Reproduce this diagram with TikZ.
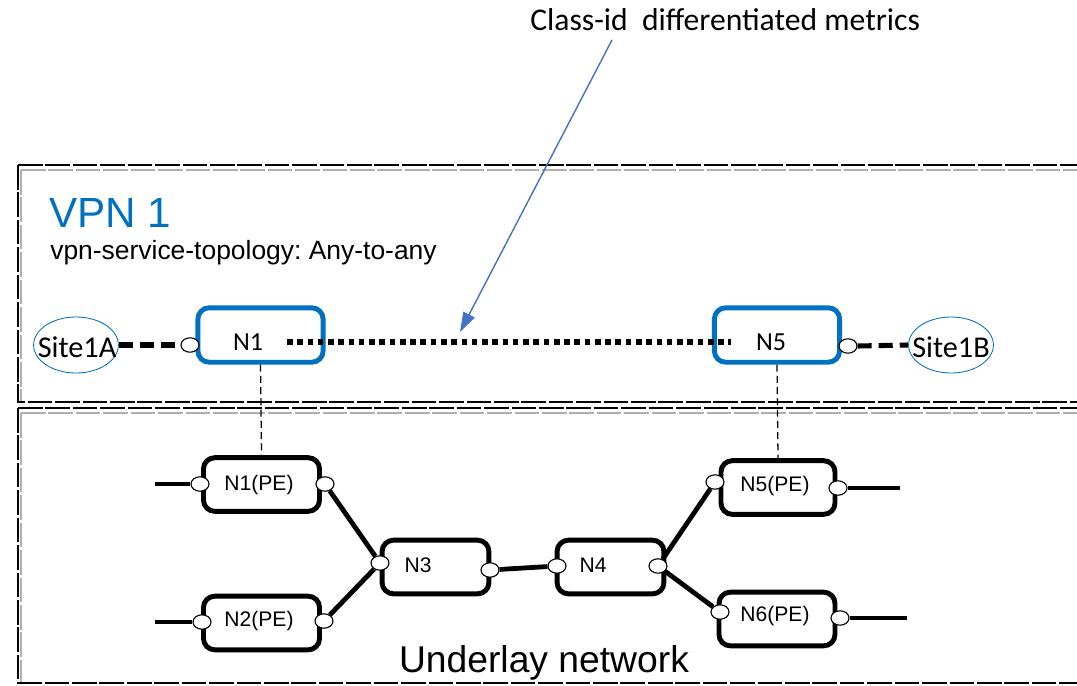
\documentclass[tikz,border=0pt]{standalone}
\usepackage{fontspec}
\setmainfont{Liberation Sans}
\newfontfamily\calibfont{Carlito}
\frenchspacing
\usetikzlibrary{positioning,shapes.geometric,arrows.meta}
\definecolor{vpnblue}{RGB}{0,112,192}
\definecolor{arrowblue}{RGB}{68,114,196}
\definecolor{framegray}{RGB}{175,175,175}
\tikzset{
	frameline/.style={line width=1.6pt,dash pattern=on 17.5pt off 2pt},
	framegrey/.style={frameline,draw=framegray},
	vpnbox/.style={draw=vpnblue,line width=3.5pt,rounded corners=8pt,minimum width=3.13cm,minimum height=1.36cm,inner sep=0pt},
	pebox/.style={draw=black,line width=3.5pt,rounded corners=8pt,minimum height=1.34cm,inner sep=0pt},
	port/.style={ellipse,draw=black,fill=white,line width=0.8pt,minimum width=0.45cm,minimum height=0.36cm,inner sep=0pt},
	siteell/.style={ellipse,draw=vpnblue,line width=0.6pt,minimum width=2.12cm,minimum height=1.4cm,inner sep=0pt},
	sitetext/.style={font=\calibfont\fontsize{21.5}{24}\selectfont,inner sep=0pt},
	nlabel/.style={font=\fontsize{15}{18}\selectfont,inner sep=0pt},
	vlabel/.style={font=\calibfont\fontsize{18.5}{22}\selectfont,inner sep=0pt},
	link/.style={line width=3.4pt},
	sitelink/.style={line width=3.6pt,dash pattern=on 10pt off 5pt},
	overlay/.style={line width=4pt,dash pattern=on 4pt off 3.3pt},
	drop/.style={line width=0.9pt,dash pattern=on 5pt off 3pt}
}

\begin{document}
\begin{tikzpicture}[x=0.025cm,y=-0.025cm]
	\useasboundingbox (0,0) rectangle (1077,685);

	% frames
	\draw[framegrey] (21,170) -- (1090,170);
	\draw[framegrey] (21,170) -- (21,402);
	\draw[frameline] (18,165) -- (1090,165);
	\draw[frameline] (18,165) -- (18,402) -- (1090,402);
	\draw[framegrey] (21,413) -- (1090,413);
	\draw[framegrey] (21,413) -- (21,683);
	\draw[frameline] (18,408) -- (1090,408);
	\draw[frameline] (18,408) -- (18,683) -- (1090,683);

	% texts
	\node[anchor=base west,inner sep=0pt,text=vpnblue,font=\fontsize{30}{34}\selectfont] (vpntitle) at (49,227) {VPN 1};
	\node[anchor=base west,inner sep=0pt,font=\fontsize{18.8}{22}\selectfont] (topo) at (50,259) {vpn-service-topology: Any-to-any};
	\node[anchor=base west,inner sep=0pt,font=\calibfont\fontsize{22.5}{26}\selectfont] (metrics) at (530,30) {Class-id\ \ differentiated metrics};
	\node[anchor=base,inner sep=0pt,font=\fontsize{26.5}{30}\selectfont] (underlay) at (544,672) {Underlay network};

	% VPN layer
	\node[siteell] (site1a) at (76,345) {};
	\node[sitetext] (site1atext) at (77,347) {Site1A};
	\node[siteell] (site1b) at (951,345) {};
	\node[sitetext] (site1btext) at (951,347) {Site1B};
	\node[vpnbox] (n1) at (260.5,335) {};
	\node[vlabel] (n1text) at (248,342) {N1};
	\node[vpnbox] (n5) at (777,335) {};
	\node[vlabel] (n5text) at (771,342) {N5};

	\coordinate (dotstart) at (287,342);
	\coordinate (dotend) at (731,342);
	\draw[overlay] (dotstart) -- (dotend);

	\node[port] (pn1) at (190,345) {};
	\node[port] (pn5) at (848,346) {};
	\draw[sitelink] (site1a.east) -- (pn1.west);
	\draw[sitelink] (pn5.east) -- (site1b.west);

	% underlay
	\node[pebox,minimum width=2.9cm] (n1pe) at (261.5,484.5) {};
	\node[nlabel] (n1petext) at (259,485) {N1(PE)};
	\node[pebox,minimum width=2.9cm] (n2pe) at (261.5,623) {};
	\node[nlabel] (n2petext) at (259,621) {N2(PE)};
	\node[pebox,minimum width=2.67cm] (n3) at (435.5,567) {};
	\node[nlabel] (n3text) at (418,565) {N3};
	\node[pebox,minimum width=2.67cm] (n4) at (610.5,567) {};
	\node[nlabel] (n4text) at (593,565) {N4};
	\node[pebox,minimum width=2.85cm] (n5pe) at (778,487.5) {};
	\node[nlabel] (n5petext) at (775,486) {N5(PE)};
	\node[pebox,minimum width=2.9cm] (n6pe) at (777,619) {};
	\node[nlabel] (n6petext) at (775,616) {N6(PE)};

	\draw[drop] (n1.south) -- (n1pe.north);
	\draw[drop] (n5.south) -- (n5pe.north);

	\coordinate (end1) at (155,484);
	\coordinate (end2) at (155,622);
	\coordinate (end5) at (900,488);
	\coordinate (end6) at (907,618);

	\node[port] (p1l) at (200,484) {};
	\node[port] (p1r) at (325,484) {};
	\node[port] (p2l) at (202,622) {};
	\node[port] (p2r) at (324,621) {};
	\node[port] (p3l) at (380,563) {};
	\node[port] (p3r) at (490,570) {};
	\node[port] (p4l) at (557,566) {};
	\node[port] (p4r) at (658,566) {};
	\node[port] (p5l) at (715,482) {};
	\node[port] (p5r) at (838,488) {};
	\node[port] (p6l) at (720,612) {};
	\node[port] (p6r) at (840,618) {};

	\draw[link] (end1) -- (p1l.west);
	\draw[link] (end2) -- (p2l.west);
	\draw[link] (p1r) -- (p3l);
	\draw[link] (p2r) -- (p3l);
	\draw[link] (p3r) -- (p4l);
	\draw[link] (p4r) -- (p5l);
	\draw[link] (p4r) -- (p6l);
	\draw[link] (p5r.east) -- (end5);
	\draw[link] (p6r.east) -- (end6);

	% arrow to the overlay link
	\coordinate (metrictip) at (460,332);
	\draw[arrowblue,line width=1pt,-{Triangle[length=14pt,width=9pt]}] (612,40) -- (metrictip);
\end{tikzpicture}
\end{document}
